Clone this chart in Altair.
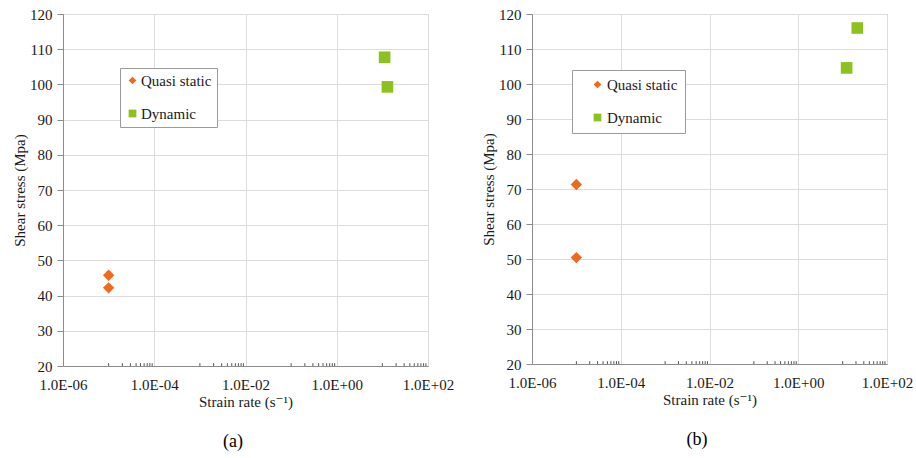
import math
import altair as alt
import pandas as pd

# ---- data ----
categories = ["Quasi static", "Dynamic"]
series_colors = ["#EE6A1C", "#8CC11F"]
series_shapes = ["diamond", "square"]

a_quasi_rate = [1e-5, 1e-5]
a_quasi_stress = [45.8, 42.2]
a_dyn_rate = [11.2, 12.9]
a_dyn_stress = [107.7, 99.3]

b_quasi_rate = [1e-5, 1e-5]
b_quasi_stress = [71.3, 50.4]
b_dyn_rate = [12.3, 21.4]
b_dyn_stress = [104.6, 116.0]

x_tick_values = [1e-6, 1e-4, 1e-2, 1e0, 1e2]
x_tick_labels = ["1.0E-06", "1.0E-04", "1.0E-02", "1.0E+00", "1.0E+02"]
y_tick_values = [20, 30, 40, 50, 60, 70, 80, 90, 100, 110, 120]
minor_mantissas = [1, 2, 3, 4, 5, 6, 7, 8, 9]
minor_decades = [1e-5, 1e-3, 1e-1, 1e1]

FONT = "'Liberation Serif', 'DejaVu Serif', serif"
TXT = "#1a1a1a"

label_expr = ""
for v, lab in zip(x_tick_values, x_tick_labels):
    label_expr += f"abs(log(datum.value)/LN10 - ({round(math.log10(v))})) < 0.01 ? '{lab}' : "
label_expr += "''"

minor_df = pd.DataFrame({
    "rate": [m * d for d in minor_decades for m in minor_mantissas],
    "stress": 20.0,
    "stress_top": 20.8,
})

x_scale = alt.Scale(type="log", domain=[1e-6, 1e2], nice=False)
y_scale = alt.Scale(domain=[20, 120], nice=False, zero=False)
color_scale = alt.Scale(domain=categories, range=series_colors)
shape_scale = alt.Scale(domain=categories, range=series_shapes)

x_axis = alt.Axis(
    values=x_tick_values, labelExpr=label_expr, ticks=False, grid=True,
    labelPadding=11, titlePadding=2, labelFlush=False, labelOverlap=False,
    title="Strain rate (s⁻¹)", labelFont=FONT, titleFont=FONT,
    labelFontSize=15, titleFontSize=15)
y_axis = alt.Axis(
    values=y_tick_values, grid=True, tickSize=6, labelPadding=5,
    titlePadding=2, labelOverlap=False, title="Shear stress (Mpa)",
    labelFont=FONT, titleFont=FONT, labelFontSize=15, titleFontSize=15)


def panel(q_rate, q_stress, d_rate, d_stress, caption, w, h, leg):
    q_df = pd.DataFrame({"rate": q_rate, "stress": q_stress, "Series": categories[0]})
    d_df = pd.DataFrame({"rate": d_rate, "stress": d_stress, "Series": categories[1]})

    x_enc = alt.X("rate:Q", scale=x_scale, axis=x_axis)
    y_enc = alt.Y("stress:Q", scale=y_scale, axis=y_axis)

    legend = alt.Legend(
        orient="none", legendX=leg["x"], legendY=leg["y"], title=None,
        strokeColor="#9a9a9a", fillColor="white", padding=leg["pad"],
        rowPadding=17, labelFont=FONT, labelFontSize=15, labelColor=TXT,
        symbolSize=60, symbolStrokeWidth=0, labelOffset=leg["loff"],
        symbolOffset=leg["symoff"], labelExpr=leg["expr"])

    minor = alt.Chart(minor_df).mark_rule(color="#555555", strokeWidth=1).encode(
        x=x_enc, y=y_enc, y2="stress_top:Q",
    )
    quasi = alt.Chart(q_df).mark_point(filled=True, size=130, opacity=1).encode(
        x=x_enc, y=y_enc,
        color=alt.Color("Series:N", scale=color_scale, legend=legend),
        shape=alt.Shape("Series:N", scale=shape_scale, legend=legend),
    )
    dyn = alt.Chart(d_df).mark_point(filled=True, size=135, opacity=1).encode(
        x=x_enc, y=y_enc,
        color=alt.Color("Series:N", scale=color_scale, legend=legend),
        shape=alt.Shape("Series:N", scale=shape_scale, legend=legend),
    )
    return alt.layer(minor, quasi, dyn).properties(
        width=w, height=h,
        title=alt.TitleParams(caption, orient="bottom", anchor="middle", offset=24,
                              frame="bounds",
                              font=FONT, fontSize=18, fontWeight="normal", color="black"),
    )


pa = panel(a_quasi_rate, a_quasi_stress, a_dyn_rate, a_dyn_stress, "(a)", 365, 352,
           {"x": 57, "y": 54, "pad": 5, "symoff": 0, "loff": 1, "expr": "datum.label"})
pb = panel(b_quasi_rate, b_quasi_stress, b_dyn_rate, b_dyn_stress, "(b)", 355, 350,
           {"x": 40, "y": 56, "pad": 7, "symoff": 11, "loff": 2, "expr": "datum.label + '   '"})

chart = alt.hconcat(pa, pb, spacing=26).resolve_scale(
    color="independent", shape="independent"
).resolve_legend(
    color="independent", shape="independent"
).properties(
    padding={"left": 12, "top": 6, "right": 0, "bottom": 0}
).configure(font=FONT).configure_view(
    stroke="#8c8c8c", strokeWidth=1
).configure_axis(
    labelFont=FONT, titleFont=FONT, labelFontSize=15, titleFontSize=15,
    titleFontWeight="normal", labelColor=TXT, titleColor=TXT,
    gridColor="#dcdcdc", gridWidth=1, domainColor="#8c8c8c", tickColor="#8c8c8c",
)

chart.save("out.html", embed_options={"renderer": "svg", "actions": False})
